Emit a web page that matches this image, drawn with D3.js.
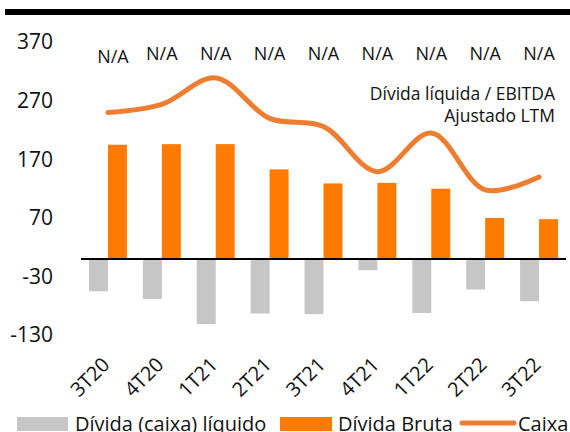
<!DOCTYPE html>
<html lang="pt">
  <head>
    <meta charset="UTF-8" />
    <title>Dívida líquida / EBITDA</title>
    <style>
      body { margin: 0; background: #fff; }
      text { font-family: "Open Sans", "Noto Sans", sans-serif; fill: #111; }
    </style>
  </head>
  <body>
    <svg id="svg" width="570" height="432"></svg>
    <script src="https://cdn.jsdelivr.net/npm/d3@7"></script>
    <script>
      // Data
      const quarters = ["3T20", "4T20", "1T21", "2T21", "3T21", "4T21", "1T22", "2T22", "3T22"];
      const dividaLiquida = [-55, -68, -111, -93, -94, -19, -92, -52, -72];
      const dividaBruta = [195, 196, 196, 153, 129, 130, 120, 70, 68];
      const caixa = [250, 264, 309, 240, 226, 149, 215, 118, 140];
      const ratioLabels = ["N/A", "N/A", "N/A", "N/A", "N/A", "N/A", "N/A", "N/A", "N/A"];
      const yTicks = [-130, -30, 70, 170, 270, 370];

      const colors = { net: "#c6c6c6", gross: "#ff7b00", cash: "#ed7d31" };

      const svg = d3.select("#svg");

      // top rule
      svg.append("rect").attr("x", 5).attr("y", 9).attr("width", 565).attr("height", 6).attr("fill", "#000");

      const x = d3.scaleBand().domain(quarters).range([81, 566]);
      const xSub = d3.scaleBand().domain(["net", "gross"]).range([0, x.bandwidth()]).paddingOuter(0.42);
      const y = d3.scaleLinear().domain([-130, 370]).range([335.2, 42.2]);

      // y axis labels (no line), plain hyphen for negatives
      const yAxis = svg
        .append("g")
        .attr("transform", "translate(53,0)")
        .call(d3.axisLeft(y).tickValues(yTicks).tickFormat((d) => String(d)).tickSize(0).tickPadding(0));
      yAxis.select(".domain").remove();
      yAxis.selectAll("text").style("font-size", "21px").style("font-family", "'Open Sans', sans-serif").attr("fill", "#111");

      // bars
      const groups = svg
        .selectAll(".grp")
        .data(quarters)
        .enter()
        .append("g")
        .attr("transform", (d) => `translate(${x(d)},0)`);

      groups
        .append("rect")
        .attr("x", xSub("net"))
        .attr("width", xSub.bandwidth())
        .attr("y", y(0))
        .attr("height", (d, i) => y(dividaLiquida[i]) - y(0))
        .attr("fill", colors.net);

      groups
        .append("rect")
        .attr("x", xSub("gross"))
        .attr("width", xSub.bandwidth())
        .attr("y", (d, i) => y(dividaBruta[i]))
        .attr("height", (d, i) => y(0) - y(dividaBruta[i]))
        .attr("fill", colors.gross);

      // zero line
      svg
        .append("line")
        .attr("x1", 81)
        .attr("x2", 566)
        .attr("y1", y(0))
        .attr("y2", y(0))
        .attr("stroke", "#000")
        .attr("stroke-width", 2);

      // Caixa line
      const line = d3
        .line()
        .x((d, i) => x(quarters[i]) + x.bandwidth() / 2)
        .y((d) => y(d))
        .curve(d3.curveCatmullRom);

      svg
        .append("path")
        .datum(caixa)
        .attr("d", line)
        .attr("fill", "none")
        .attr("stroke", colors.cash)
        .attr("stroke-width", 5)
        .attr("stroke-linecap", "round");

      // N/A labels
      svg
        .selectAll(".na")
        .data(ratioLabels)
        .enter()
        .append("text")
        .attr("x", (d, i) => x(quarters[i]) + x.bandwidth() / 2 + (i === 0 ? 5 : 0))
        .attr("y", (d, i) => (i === 0 ? 63 : 60))
        .attr("text-anchor", "middle")
        .style("font-size", "18px")
        .text((d) => d);

      // annotation
      const note = svg.append("text").attr("text-anchor", "end").style("font-size", "17.5px");
      note.append("tspan").attr("x", 555).attr("y", 100).text("Dívida líquida / EBITDA");
      note.append("tspan").attr("x", 555).attr("y", 122).text("Ajustado LTM");

      // x labels, rotated
      svg
        .selectAll(".xl")
        .data(quarters)
        .enter()
        .append("text")
        .attr("transform", (d) => `translate(${x(d) + x.bandwidth() / 2 + 3},366) rotate(-45)`)
        .attr("text-anchor", "end")
        .style("font-size", "20px")
        .text((d) => d);

      // legend (cut by the bottom edge, as in the original)
      const legend = svg.append("g").style("font-size", "20px");
      legend.append("rect").attr("x", 17).attr("y", 417).attr("width", 51).attr("height", 14).attr("fill", colors.net);
      legend.append("text").attr("x", 75).attr("y", 431).text("Dívida (caixa) líquido");
      legend.append("rect").attr("x", 280).attr("y", 417).attr("width", 52).attr("height", 14).attr("fill", colors.gross);
      legend.append("text").attr("x", 338).attr("y", 431).text("Dívida Bruta");
      legend
        .append("line")
        .attr("x1", 462)
        .attr("x2", 514)
        .attr("y1", 423)
        .attr("y2", 423)
        .attr("stroke", colors.cash)
        .attr("stroke-width", 5)
        .attr("stroke-linecap", "round");
      legend.append("text").attr("x", 518).attr("y", 431).text("Caixa");
    </script>
  </body>
</html>
